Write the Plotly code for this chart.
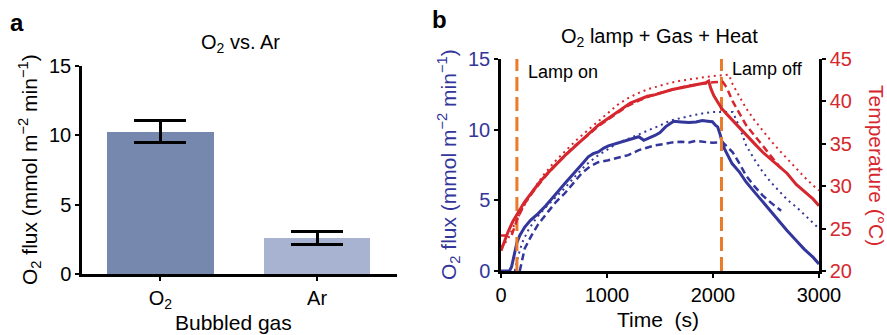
import plotly.graph_objects as go

W, H = 887, 335

# ---------------- Panel a data ----------------
gas = ["O<sub>2</sub>", "Ar"]
flux_mean = [10.25, 2.6]
flux_err = [0.8, 0.45]

# ---------------- Panel b data ----------------
t_flux_solid = [0, 80, 100, 129, 150, 177, 200, 224, 280, 350, 420, 476, 540, 602, 665, 728, 780, 823,
                870, 918, 970, 1013, 1080, 1142, 1200, 1260, 1300, 1347, 1400, 1457, 1500, 1552, 1600,
                1631, 1700, 1773, 1840, 1899, 1950, 1994, 2025, 2044, 2070, 2092, 2123, 2180, 2250,
                2312, 2390, 2470, 2550, 2628, 2700, 2785, 2860, 2943, 3000]
flux_solid = [0, 0, 0.3, 1.33, 2.0, 2.52, 2.85, 3.11, 3.6, 4.06, 4.6, 5.12, 5.65, 6.19, 6.7, 7.25, 7.7,
              8.08, 8.3, 8.43, 8.7, 8.85, 9.0, 9.14, 9.3, 9.45, 9.5, 9.25, 9.4, 9.61, 9.8, 10.2, 10.45,
              10.6, 10.55, 10.5, 10.55, 10.64, 10.6, 10.56, 10.3, 10.2, 9.6, 8.9, 8.43, 7.6, 7.0,
              6.3, 5.6, 4.88, 4.15, 3.46, 2.85, 2.16, 1.55, 0.98, 0.5]

t_flux_dot = [130, 160, 200, 250, 300, 350, 420, 500, 600, 700, 800, 900, 1000, 1100, 1200, 1300,
              1400, 1500, 1600, 1700, 1800, 1900, 2000, 2100, 2186, 2249, 2312, 2390, 2470, 2550,
              2628, 2700, 2785, 2860, 2943, 3000]
flux_dot = [0, 1.0, 2.0, 2.8, 3.4, 3.9, 4.5, 5.1, 5.85, 6.7, 7.5, 8.1, 8.6, 9.05, 9.35, 9.65,
            10.0, 10.3, 10.65, 10.85, 11.0, 11.15, 11.25, 11.25, 11.25, 10.2, 8.9, 7.9, 7.0, 6.25,
            5.6, 5.05, 4.54, 4.0, 3.36, 3.0]

t_flux_dash = [177, 200, 224, 287, 350, 445, 520, 602, 680, 760, 840, 918, 1013, 1080, 1142, 1200,
               1300, 1400, 1457, 1550, 1615, 1700, 1773, 1836, 1900, 1994, 2092, 2186, 2250, 2312,
               2390, 2470, 2560, 2643]
flux_dash = [0, 0.7, 1.6, 2.5, 3.3, 4.2, 4.9, 5.5, 6.2, 6.9, 7.4, 7.7, 7.84, 7.95, 8.08, 8.2,
             8.55, 8.75, 8.9, 9.0, 9.1, 9.15, 9.1, 9.2, 9.15, 9.07, 9.1, 8.4, 7.6, 6.75,
             6.0, 5.33, 4.75, 4.26]

t_temp_solid = [0, 30, 66, 110, 161, 220, 287, 360, 445, 520, 602, 680, 760, 840, 918, 1013, 1080,
                1142, 1220, 1300, 1380, 1457, 1540, 1615, 1700, 1773, 1850, 1931, 1959, 1980, 2007,
                2040, 2080, 2130, 2196, 2312, 2400, 2470, 2550, 2628, 2700, 2785, 2860, 2943, 3000]
temp_solid = [22.4, 23.5, 24.6, 25.8, 26.9, 28.1, 29.2, 30.4, 31.6, 32.6, 33.6, 34.5, 35.4, 36.3,
              37.2, 38.0, 38.6, 39.2, 39.8, 40.2, 40.6, 40.8, 41.1, 41.4, 41.6, 41.8, 42.0, 42.2,
              42.4, 41.5, 40.7, 40.0, 39.2, 38.5, 37.6, 36.0, 34.9, 34.0, 33.1, 32.3, 31.5, 30.2,
              29.4, 28.5, 27.7]

t_temp_dot = [0, 60, 120, 200, 300, 400, 500, 600, 700, 800, 900, 1000, 1100, 1200, 1300, 1400,
              1500, 1600, 1700, 1800, 1900, 2000, 2100, 2150, 2186, 2250, 2312, 2390, 2470, 2550,
              2628, 2700, 2785, 2860, 2943, 3000]
temp_dot = [22.8, 23.6, 25.3, 27.3, 29.5, 31.3, 32.8, 34.1, 35.3, 36.4, 37.5, 38.6, 39.6, 40.4,
            41.0, 41.5, 41.85, 42.2, 42.45, 42.65, 42.85, 43.0, 43.1, 43.15, 42.0, 40.5, 39.2,
            37.8, 36.5, 35.3, 34.2, 33.2, 32.1, 31.1, 30.1, 29.5]

t_temp_dash = [0, 100, 150, 220, 300, 400, 500, 600, 700, 800, 900, 1000, 1100, 1200, 1300, 1400,
               1500, 1600, 1700, 1800, 1900, 2000, 2092, 2130, 2186, 2250, 2312, 2390, 2470, 2550,
               2628, 2660]
temp_dash = [24.2, 24.2, 26.0, 27.9, 29.3, 30.9, 32.3, 33.6, 34.8, 35.8, 36.9, 37.8, 38.7, 39.5,
             40.1, 40.6, 41.0, 41.35, 41.65, 41.9, 42.1, 42.25, 42.3, 41.6, 40.0, 38.6, 37.2,
             36.0, 34.8, 33.5, 32.3, 32.0]

lamp_times = [150, 2080]
lamp_labels = ["Lamp on", "Lamp off"]

# ---------------- styling ----------------
BLUE = "#33369A"
RED = "#D6272E"
ORANGE = "#E97B2A"
BAR_COLORS = ["#7688AD", "#A7B3D0"]
FONT = "Liberation Sans, Arial, Helvetica, sans-serif"


def fx(p):
    return p / W


def fy(p):
    return 1 - p / H


fig = go.Figure()

fig.add_trace(go.Bar(
    x=gas, y=flux_mean, width=0.68, marker=dict(color=BAR_COLORS, line=dict(width=0)),
    error_y=dict(type="data", array=flux_err, color="black", thickness=3, width=26),
    xaxis="x", yaxis="y", showlegend=False))

# O2 flux traces
fig.add_trace(go.Scatter(x=t_flux_dot, y=flux_dot, mode="lines",
                         line=dict(color=BLUE, width=2, dash="2px,4px"),
                         xaxis="x2", yaxis="y2", showlegend=False))
fig.add_trace(go.Scatter(x=t_flux_dash, y=flux_dash, mode="lines",
                         line=dict(color=BLUE, width=2.5, dash="7px,4px"),
                         xaxis="x2", yaxis="y2", showlegend=False))
fig.add_trace(go.Scatter(x=t_flux_solid, y=flux_solid, mode="lines",
                         line=dict(color=BLUE, width=3),
                         xaxis="x2", yaxis="y2", showlegend=False))

# Temperature traces
fig.add_trace(go.Scatter(x=t_temp_dot, y=temp_dot, mode="lines",
                         line=dict(color=RED, width=2, dash="2px,4px"),
                         xaxis="x2", yaxis="y3", showlegend=False))
fig.add_trace(go.Scatter(x=t_temp_dash, y=temp_dash, mode="lines",
                         line=dict(color=RED, width=2.5, dash="7px,4px"),
                         xaxis="x2", yaxis="y3", showlegend=False))
fig.add_trace(go.Scatter(x=t_temp_solid, y=temp_solid, mode="lines",
                         line=dict(color=RED, width=3),
                         xaxis="x2", yaxis="y3", showlegend=False))

# Lamp on/off lines
for lt in lamp_times:
    fig.add_trace(go.Scatter(x=[lt, lt], y=[0, 15], mode="lines",
                             line=dict(color=ORANGE, width=3, dash="14px,6px"),
                             xaxis="x2", yaxis="y2", showlegend=False))

TICK = 20
axis_common = dict(showline=True, linecolor="black", linewidth=2.5, showgrid=False, zeroline=False,
                   ticks="outside", ticklen=4, tickwidth=2, tickcolor="black", automargin=False,
                   tickfont=dict(size=TICK, color="black", family=FONT))

fig.update_layout(
    template="none",
    width=W, height=H, margin=dict(l=0, r=0, t=0, b=0, pad=0, autoexpand=False),
    paper_bgcolor="white", plot_bgcolor="white",
    font=dict(family=FONT, color="black"),
    bargap=0,
    xaxis=dict(axis_common, domain=[fx(82), fx(397)], anchor="y", type="category",
               range=[-0.5, 1.51]),
    yaxis=dict(axis_common, domain=[fy(274), fy(66)], anchor="x", range=[0, 15], dtick=5),
    xaxis2=dict(axis_common, domain=[fx(501), fx(819)], anchor="y2", range=[0, 3000], dtick=1000),
    yaxis2=dict(axis_common, domain=[fy(271), fy(59)], anchor="x2", range=[0, 15], dtick=5,
                tickfont=dict(size=TICK, color=BLUE, family=FONT)),
    yaxis3=dict(axis_common, domain=[fy(271), fy(59)], anchor="x2", overlaying="y2", side="right",
                range=[20, 45], dtick=5, tickfont=dict(size=TICK, color=RED, family=FONT)),
)

ann = []


def A(text, x, y, size=20, color="black", angle=0, xanchor="center", yanchor="middle"):
    ann.append(dict(text=text, x=fx(x), y=fy(y), xref="paper", yref="paper", showarrow=False,
                    font=dict(size=size, color=color, family=FONT), textangle=angle,
                    xanchor=xanchor, yanchor=yanchor))


A("<b>a</b>", 17, 22, size=24)
A("<b>b</b>", 439, 20, size=24)
A("O<sub>2</sub> vs. Ar", 240, 43, size=20)
A("O<sub>2</sub> lamp + Gas + Heat", 659, 37, size=20)
A("O<sub>2</sub> flux (mmol m<sup>−2</sup> min<sup>−1</sup>)", 29, 170, size=21, angle=-90)
A("O<sub>2</sub> flux (mmol m<sup>−2</sup> min<sup>−1</sup>)", 448, 165, size=21, color=BLUE, angle=-90)
A("Temperature (°C)", 877, 165, size=21, color=RED, angle=90)
A("Bubbled gas", 234, 322, size=21)
A("Time\u00a0 (s)", 658, 319, size=21)
A(lamp_labels[0], 526, 72, size=18, xanchor="left")
A(lamp_labels[1], 730, 69, size=18, xanchor="left")

fig.update_layout(annotations=ann)

fig.write_html("out.html", config={"displayModeBar": False},
               post_script="document.body.style.margin='0px';document.body.style.overflow='hidden';")
